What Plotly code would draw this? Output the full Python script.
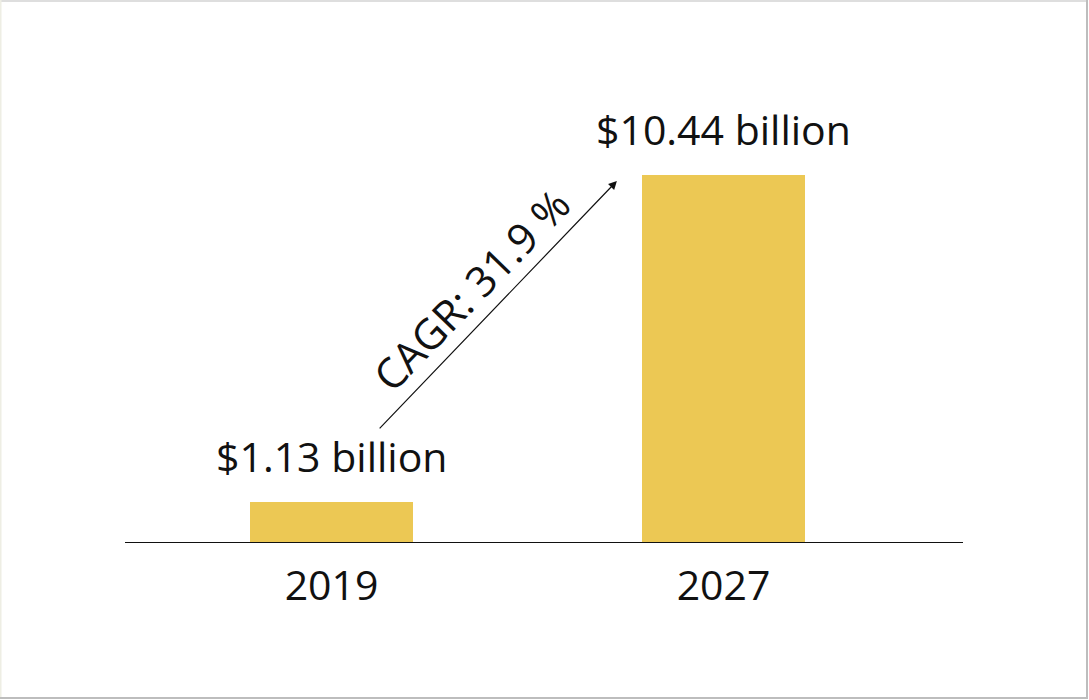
import plotly.graph_objects as go

# Market size data
years = ["2019", "2027"]
values = [1.13, 10.44]
value_labels = ["$1.13 billion", "$10.44 billion"]
cagr_label = "CAGR: 31.9 %"

bar_color = "#ECC854"
font_family = "'Open Sans', sans-serif"

xpos = list(range(len(years)))

fig = go.Figure()
fig.add_trace(go.Bar(
    x=xpos, y=values, width=0.416,
    marker=dict(color=bar_color, line=dict(width=0)),
    hoverinfo="skip",
))

# value labels above bars
for i, (v, lab) in enumerate(zip(values, value_labels)):
    fig.add_annotation(x=i, y=v, text=lab, showarrow=False,
                       xanchor="center", yanchor="bottom", yshift=16,
                       font=dict(size=41, color="#111111"))

# growth arrow
fig.add_annotation(x=0.728, y=10.27, ax=0.119, ay=3.19,
                   xref="x", yref="y", axref="x", ayref="y",
                   text="", showarrow=True, arrowhead=2, arrowsize=1.4,
                   arrowwidth=1.2, arrowcolor="#111111")
fig.add_annotation(x=0.355, y=7.18, text=cagr_label, showarrow=False,
                   textangle=-46, font=dict(size=42, color="#111111"))

# thin frame around the picture
W, H = 1089, 700
L, R, T, B = 125, 126, 60, 158
pw, ph = W - L - R, H - T - B
def px(xp): return (xp - L) / pw
def py(yp): return (H - B - yp) / ph
frame = [
    (0.5, 1, W - 1, 1, "#dedede", 2),          # top
    (0.5, 0, 0.5, H - 1, "#eeeee4", 2),        # left
    (W - 2, 0, W - 2, H - 1, "#bdbdbd", 2),    # right
    (0, H - 2, W - 1, H - 2, "#bdbdbd", 2),    # bottom
]
for x0, y0, x1, y1, c, w in frame:
    fig.add_shape(type="line", xref="paper", yref="paper",
                  x0=px(x0), y0=py(y0), x1=px(x1), y1=py(y1),
                  line=dict(color=c, width=w), layer="below")

fig.update_layout(
    width=W, height=H,
    margin=dict(l=L, r=R, t=T, b=B),
    paper_bgcolor="white", plot_bgcolor="white",
    showlegend=False,
    font=dict(family=font_family, color="#111111"),
    bargap=0,
)
fig.update_xaxes(range=[-0.527, 1.611], tickmode="array", tickvals=xpos,
                 ticktext=years, tickfont=dict(size=41), showgrid=False,
                 zeroline=False, showline=True, linecolor="#111111", linewidth=1,
                 ticks="outside", ticklen=8, tickcolor="rgba(0,0,0,0)")
fig.update_yaxes(range=[0, 13.71], visible=False, showgrid=False)

fig.write_html("out.html", config={"displayModeBar": False},
               post_script="document.body.style.margin='0';")
